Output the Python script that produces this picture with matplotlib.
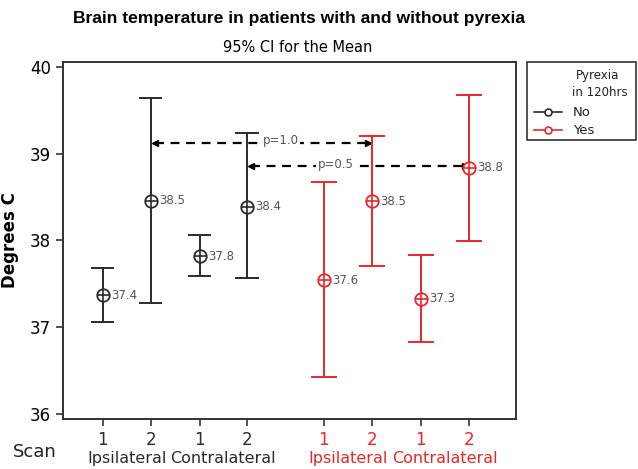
import matplotlib
matplotlib.use("Agg")
import matplotlib.pyplot as plt
import matplotlib.transforms as mtransforms
from matplotlib.patches import Rectangle
from matplotlib.lines import Line2D

# Data
groups = ["No", "No", "No", "No", "Yes", "Yes", "Yes", "Yes"]
scan_labels = ["1", "2", "1", "2", "1", "2", "1", "2"]
side_labels = ["Ipsilateral", "Contralateral", "Ipsilateral", "Contralateral"]
means = [37.37, 38.46, 37.82, 38.39, 37.54, 38.45, 37.33, 38.84]
upper = [37.68, 39.64, 38.06, 39.24, 38.67, 39.20, 37.83, 39.68]
lower = [37.06, 37.28, 37.59, 37.57, 36.43, 37.70, 36.83, 37.99]
mean_labels = ["37.4", "38.5", "37.8", "38.4", "37.6", "38.5", "37.3", "38.8"]
p_labels = ["p=1.0", "p=0.5"]
p_levels = [39.13, 38.86]
p_pairs = [(1, 5), (3, 7)]  # indices of compared points
p_label_frac = [0.58, 0.39]  # where along the arrow the label sits
legend_labels = ["No", "Yes"]

black = "#2b2b2b"
red = "#e8272b"
colors = {"No": black, "Yes": red}

xs = [1, 2, 3.02, 4, 5.6, 6.6, 7.62, 8.62]

fig = plt.figure(figsize=(6.38, 4.69), dpi=100)
ax = fig.add_axes([0.0987, 0.1066, 0.7100, 0.7614])

for i in range(8):
    c = colors[groups[i]]
    x = xs[i]
    cap = 0.22 if groups[i] == "No" else 0.25
    ax.plot([x, x], [lower[i], upper[i]], color=c, lw=1.4, zorder=2)
    for yv in (lower[i], upper[i]):
        ax.plot([x - cap, x + cap], [yv, yv], color=c, lw=1.4, zorder=2)
    ax.plot([x], [means[i]], marker="o", ms=9, mfc="white", mec=c, mew=1.3, zorder=3)
    ax.plot([x], [means[i]], marker="+", ms=9, mec=c, mew=1.2, zorder=4)
    ax.text(x + 0.17, means[i], mean_labels[i], fontsize=8.5, color="#555555",
            va="center", ha="left", zorder=5)

# p-value arrows
for (a, b), yv, lab, fr in zip(p_pairs, p_levels, p_labels, p_label_frac):
    x0 = xs[a] + 0.08
    x1 = xs[b]
    ax.plot([x0, x1 - 0.1], [yv, yv], color="black", lw=1.6, dashes=(4, 3), zorder=1)
    ax.plot([x0], [yv], marker="<", ms=4, color="black", zorder=1)
    ax.plot([x1 - 0.08], [yv], marker=">", ms=5, color="black", zorder=1)
    xm = x0 + (x1 - x0) * fr
    ax.text(xm, yv + 0.02, lab, fontsize=8.5, color="#555555", ha="center", va="center",
            bbox=dict(facecolor="white", edgecolor="none", pad=1.0), zorder=2)

ax.set_xlim(0.17, 9.6)
ax.set_ylim(35.94, 40.06)
ax.set_yticks([36, 37, 38, 39, 40])
ax.set_yticklabels(["36", "37", "38", "39", "40"], fontsize=12)
ax.set_xticks(xs)
ax.set_xticklabels([])
ax.tick_params(axis="both", direction="out", length=5, width=1.2, color="#333333")
for s in ax.spines.values():
    s.set_color("#333333")
    s.set_linewidth(1.4)

trans = mtransforms.blended_transform_factory(ax.transData, fig.transFigure)
for i in range(8):
    ax.text(xs[i], 1 - 440 / 469, scan_labels[i], transform=trans, ha="center", va="center",
            fontsize=12, color=colors[groups[i]])
for k in range(4):
    xc = (xs[2 * k] + xs[2 * k + 1]) / 2
    c = black if k < 2 else red
    ax.text(xc, 1 - 458 / 469, side_labels[k], transform=trans, ha="center", va="center",
            fontsize=11.5, color=c)
fig.text(35 / 638, 1 - 452 / 469, "Scan", ha="center", va="center", fontsize=13, color="#222222")

ax.set_ylabel("Degrees C", fontsize=12, fontweight="bold", labelpad=8)

fig.text(299 / 638, 1 - 19 / 469, "Brain temperature in patients with and without pyrexia",
         ha="center", va="center", fontsize=12.6, fontweight="bold", family="Liberation Sans")
fig.text(298 / 638, 1 - 47 / 469, "95% CI for the Mean", ha="center", va="center",
         fontsize=10.5)

# legend drawn manually in figure pixel coordinates
W, H = 638.0, 469.0
def fx(px):
    return px / W
def fy(py):
    return 1 - py / H

fig.patches.append(Rectangle((fx(527), fy(140)), fx(636) - fx(527), fy(62) - fy(140),
                             transform=fig.transFigure, facecolor="white",
                             edgecolor="#333333", lw=1.2))
fig.text(fx(598), fy(75), "Pyrexia", ha="center", va="center", fontsize=8.5, color="#222222")
fig.text(fx(600), fy(93), "in 120hrs", ha="center", va="center", fontsize=8.5, color="#222222")
for lab, yy, c in zip(legend_labels, [112, 130], [black, red]):
    fig.lines.append(Line2D([fx(534), fx(562)], [fy(yy), fy(yy)], transform=fig.transFigure,
                            color=c, lw=1.2))
    fig.lines.append(Line2D([fx(548)], [fy(yy)], transform=fig.transFigure, color=c,
                            marker="o", ms=5, mfc="white", mec=c, mew=1.2))
    fig.text(fx(573), fy(yy), lab, ha="left", va="center", fontsize=9.5, color="#222222")

fig.savefig("out.png", dpi=100)
